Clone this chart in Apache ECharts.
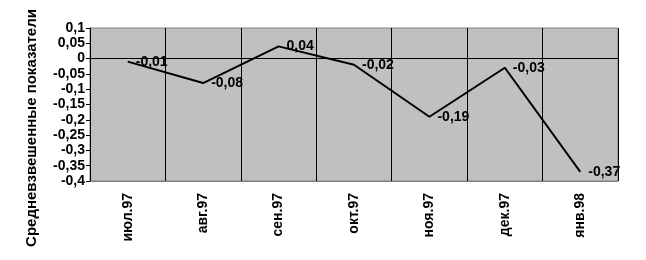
<!DOCTYPE html>
<html>
<head>
<meta charset="utf-8">
<script src="https://cdn.jsdelivr.net/npm/echarts@6/dist/echarts.min.js"></script>
<style>html,body{margin:0;padding:0;background:#fff}#c{width:646px;height:260px}</style>
</head>
<body>
<div id="c"></div>
<script>
var categories = ['июл.97', 'авг.97', 'сен.97', 'окт.97', 'ноя.97', 'дек.97', 'янв.98'];
var values = [-0.01, -0.08, 0.04, -0.02, -0.19, -0.03, -0.37];
var pointLabels = ['-0,01', '-0,08', '0,04', '-0,02', '-0,19', '-0,03', '-0,37'];
var yAxisTitle = 'Средневзвешенные показатели';

var FONT = '"Liberation Sans", Arial, sans-serif';
var chart = echarts.init(document.getElementById('c'), null, {renderer: 'canvas'});
chart.setOption({
  animation: false,
  backgroundColor: '#ffffff',
  grid: {left: 90, right: 28, top: 28, bottom: 79, show: true, backgroundColor: '#c0c0c0', borderColor: '#808080', borderWidth: 1},
  graphic: [{
    type: 'text', x: 32, y: 128, rotation: Math.PI / 2,
    style: {text: yAxisTitle, textAlign: 'center', textVerticalAlign: 'middle', fontFamily: FONT, fontSize: 15, fontWeight: 'bold', fill: '#000'}
  }],
  xAxis: {
    type: 'category', data: categories, boundaryGap: true,
    axisLine: {onZero: false, lineStyle: {color: '#808080', width: 1}},
    axisTick: {show: false},
    splitLine: {show: true, lineStyle: {color: '#000', width: 1}},
    axisLabel: {rotate: 90, margin: 12, fontFamily: FONT, fontSize: 14, fontWeight: 'bold', color: '#000'}
  },
  yAxis: {
    type: 'value', min: -0.4, max: 0.1, interval: 0.05,
    axisLine: {show: true, lineStyle: {color: '#000', width: 1}},
    axisTick: {show: true, length: 4, lineStyle: {color: '#000'}},
    splitLine: {show: false},
    axisLabel: {
      margin: 5, fontFamily: FONT, fontSize: 14, fontWeight: 'bold', color: '#000',
      formatter: function (v) { return String(parseFloat(v.toFixed(2))).replace('.', ','); }
    }
  },
  series: [{
    type: 'line', data: values, symbol: 'circle', symbolSize: 0, showSymbol: true,
    itemStyle: {color: '#000'},
    lineStyle: {color: '#000', width: 2},
    label: {show: true, position: 'right', distance: 8, fontFamily: FONT, fontSize: 14, fontWeight: 'bold', color: '#000',
      formatter: function (p) { return pointLabels[p.dataIndex]; }},
    labelLayout: {hideOverlap: false},
    markLine: {silent: true, symbol: 'none', label: {show: false}, lineStyle: {color: '#000', width: 1, type: 'solid'}, data: [{yAxis: 0}]}
  }]
});
</script>
</body>
</html>
